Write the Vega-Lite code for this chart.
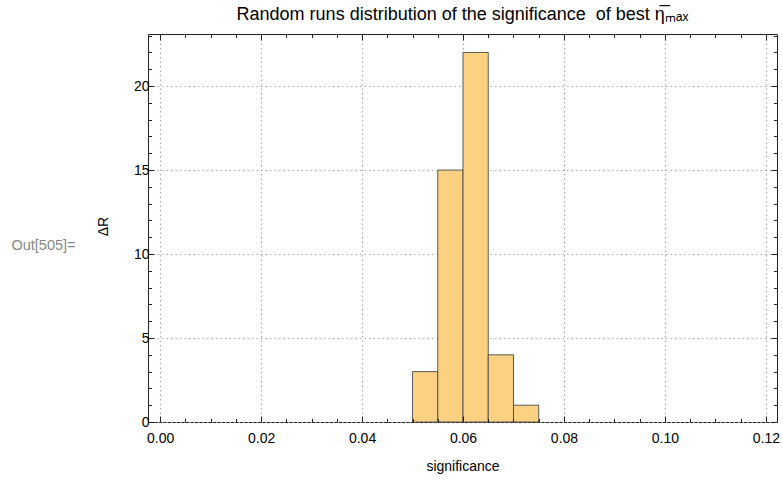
{
  "$schema": "https://vega.github.io/schema/vega-lite/v6.json",
  "width": 629,
  "height": 388,
  "autosize": {"type": "none"},
  "padding": {"left": 148, "top": 34, "right": 6, "bottom": 61},
  "background": "white",
  "title": {
    "text": "Random runs distribution of the significance \u00a0of best η\u0305ₘₐₓ",
    "font": "Liberation Sans",
    "fontSize": 18,
    "fontWeight": "normal",
    "color": "#000",
    "anchor": "middle",
    "offset": 10
  },
  "config": {
    "view": {"stroke": "#222", "strokeWidth": 1},
    "axis": {
      "labelFont": "Liberation Sans",
      "labelFontSize": 14,
      "labelColor": "#000",
      "titleFont": "Liberation Sans",
      "titleFontSize": 14,
      "titleFontWeight": "normal",
      "titleColor": "#000",
      "domain": false,
      "tickColor": "#222",
      "tickWidth": 1,
      "grid": false
    }
  },
  "data": {
    "values": [
      {"lo": 0.050, "hi": 0.055, "count": 3},
      {"lo": 0.055, "hi": 0.060, "count": 15},
      {"lo": 0.060, "hi": 0.065, "count": 22},
      {"lo": 0.065, "hi": 0.070, "count": 4},
      {"lo": 0.070, "hi": 0.075, "count": 1}
    ]
  },
  "resolve": {"axis": {"x": "independent", "y": "independent"}},
  "layer": [
    {
      "mark": {"type": "bar", "opacity": 0},
      "encoding": {
        "x": {"field": "lo", "type": "quantitative",
          "scale": {"domain": [-0.0024, 0.1222], "nice": false, "zero": false},
          "axis": {"orient": "bottom", "values": [0, 0.02, 0.04, 0.06, 0.08, 0.1, 0.12], "grid": true, "gridColor": "#aaa", "gridDash": [1.5, 3], "gridWidth": 1.2, "ticks": false, "labels": false, "title": null, "zindex": 0}},
        "x2": {"field": "hi"},
        "y": {"field": "count", "type": "quantitative",
          "scale": {"domain": [0, 23.1], "nice": false},
          "axis": {"orient": "left", "values": [0, 5, 10, 15, 20], "grid": true, "gridColor": "#aaa", "gridDash": [1.5, 3], "gridWidth": 1.2, "ticks": false, "labels": false, "title": null, "zindex": 0}},
        "y2": {"datum": 0}
      }
    },
    {
      "mark": {"type": "bar", "fill": "#FDD182", "stroke": "#4a4a4a", "strokeWidth": 0.9},
      "encoding": {
        "x": {"field": "lo", "type": "quantitative",
          "axis": {"orient": "bottom", "values": [0, 0.02, 0.04, 0.06, 0.08, 0.1, 0.12], "format": ".2f", "tickSize": -6, "labelPadding": 15, "title": "significance", "titlePadding": 14, "zindex": 1}},
        "x2": {"field": "hi"},
        "y": {"field": "count", "type": "quantitative",
          "axis": {"orient": "left", "values": [0, 5, 10, 15, 20], "tickSize": -6, "labelPadding": 5, "title": "ΔR", "titleX": -45, "titleY": 192, "titleAlign": "center", "titleBaseline": "middle", "titleAngle": -90, "zindex": 1}},
        "y2": {"datum": 0}
      }
    },
    {
      "mark": {"type": "bar", "opacity": 0},
      "encoding": {
        "x": {"field": "lo", "type": "quantitative",
          "axis": {"orient": "bottom", "values": [0.005, 0.01, 0.015, 0.025, 0.03, 0.035, 0.045, 0.05, 0.055, 0.065, 0.07, 0.075, 0.085, 0.09, 0.095, 0.105, 0.11, 0.115], "tickSize": -3.5, "labels": false, "title": null, "zindex": 1}},
        "x2": {"field": "hi"},
        "y": {"field": "count", "type": "quantitative",
          "axis": {"orient": "left", "values": [1, 2, 3, 4, 6, 7, 8, 9, 11, 12, 13, 14, 16, 17, 18, 19, 21, 22, 23], "tickSize": -3.5, "labels": false, "title": "Out[505]=", "titleAngle": 0, "titleColor": "#888", "titleFontSize": 14.5, "titleX": -105, "titleY": 211, "titleAlign": "center", "titleBaseline": "middle", "zindex": 1}},
        "y2": {"datum": 0}
      }
    },
    {
      "mark": {"type": "bar", "opacity": 0},
      "encoding": {
        "x": {"field": "lo", "type": "quantitative",
          "axis": {"orient": "top", "values": [0, 0.02, 0.04, 0.06, 0.08, 0.1, 0.12], "tickSize": -6, "labels": false, "title": null, "zindex": 1}},
        "x2": {"field": "hi"},
        "y": {"field": "count", "type": "quantitative",
          "axis": {"orient": "right", "values": [0, 5, 10, 15, 20], "tickSize": -6, "labels": false, "title": null, "zindex": 1}},
        "y2": {"datum": 0}
      }
    },
    {
      "mark": {"type": "bar", "opacity": 0},
      "encoding": {
        "x": {"field": "lo", "type": "quantitative",
          "axis": {"orient": "top", "values": [0.005, 0.01, 0.015, 0.025, 0.03, 0.035, 0.045, 0.05, 0.055, 0.065, 0.07, 0.075, 0.085, 0.09, 0.095, 0.105, 0.11, 0.115], "tickSize": -3.5, "labels": false, "title": null, "zindex": 1}},
        "x2": {"field": "hi"},
        "y": {"field": "count", "type": "quantitative",
          "axis": {"orient": "right", "values": [1, 2, 3, 4, 6, 7, 8, 9, 11, 12, 13, 14, 16, 17, 18, 19, 21, 22, 23], "tickSize": -3.5, "labels": false, "title": null, "zindex": 1}},
        "y2": {"datum": 0}
      }
    }
  ]
}
